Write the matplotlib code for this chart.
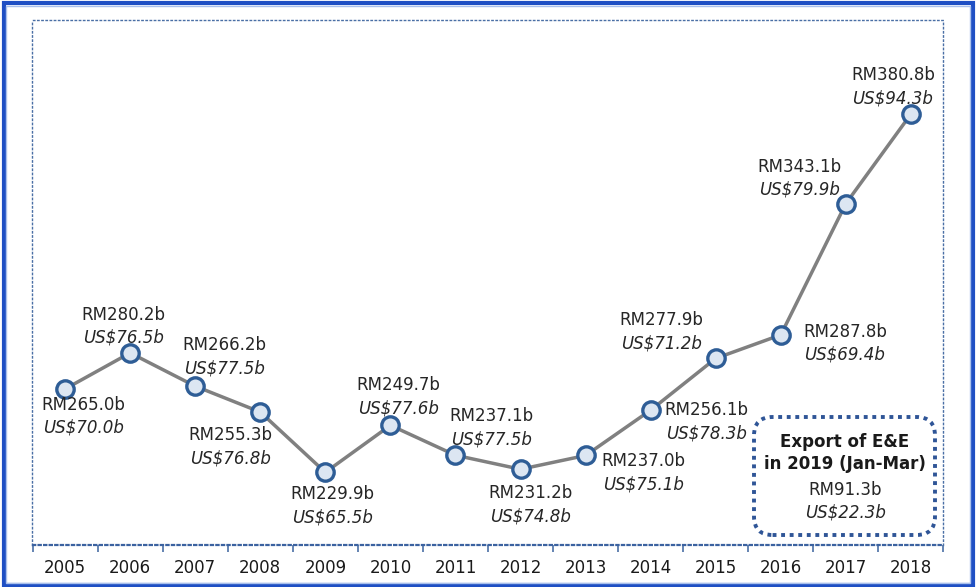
import numpy as np
import matplotlib.pyplot as plt
from matplotlib.patches import Rectangle, FancyBboxPatch

years = ["2005", "2006", "2007", "2008", "2009", "2010", "2011",
         "2012", "2013", "2014", "2015", "2016", "2017", "2018"]
rm_values = [265.0, 280.2, 266.2, 255.3, 229.9, 249.7, 237.1,
             231.2, 237.0, 256.1, 277.9, 287.8, 343.1, 380.8]
usd_values = [70.0, 76.5, 77.5, 76.8, 65.5, 77.6, 77.5,
              74.8, 75.1, 78.3, 71.2, 69.4, 79.9, 94.3]

# label offsets (pixels) of the RM line centre from each point
label_dx = [18, -7, 29, -30, 7, 8, 36, 10, 58, 56, -54, 64, -46, -18]
label_dy = [-16, 38, 41, -23, -22, 40, 39, -24, -6, 0, 38, 3, 37, 39]

inset_title = "Export of E&E\nin 2019 (Jan-Mar)"
inset_rm = "RM91.3b"
inset_usd = "US$22.3b"

plt.rcParams['font.family'] = ['DejaVu Sans']

fig = plt.figure(figsize=(9.78, 5.87), dpi=100)
ax = fig.add_axes([32.5 / 978, 42 / 587, 911 / 978, 525 / 587])

x = np.arange(len(years))
ax.plot(x, rm_values, color='#808080', lw=2.5, zorder=2)
ax.plot(x, rm_values, 'o', ms=12.5, mfc='#dce6f2', mec='#2e5d96', mew=2.4,
        zorder=3)

for i in range(len(years)):
    ax.annotate(f"RM{rm_values[i]:.1f}b", (x[i], rm_values[i]),
                xytext=(label_dx[i], label_dy[i]), textcoords='offset pixels',
                ha='center', va='center', fontsize=12, color='#262626')
    ax.annotate(f"US${usd_values[i]:.1f}b", (x[i], rm_values[i]),
                xytext=(label_dx[i], label_dy[i] - 23), textcoords='offset pixels',
                ha='center', va='center', fontsize=12, color='#262626',
                style='italic')

ax.set_xlim(-0.5, len(years) - 0.5)
ax.set_ylim(199.3, 420.4)
ax.set_yticks([])
ax.set_xticks(x)
ax.set_xticklabels(years, fontsize=12, color='#1a1a1a')
ax.set_xticks(np.arange(-0.5, len(years)), minor=True)
ax.tick_params(axis='x', which='major', length=0, pad=10)
ax.tick_params(axis='x', which='minor', length=5, width=1.2, color='#4a6fa5')

for side in ['top', 'left', 'right']:
    ax.spines[side].set_linestyle((0, (1, 2)))
    ax.spines[side].set_color('#4a6fa5')
    ax.spines[side].set_linewidth(1.0)
ax.spines['bottom'].set_linestyle((0, (1, 1.5)))
ax.spines['bottom'].set_color('#3b62a0')
ax.spines['bottom'].set_linewidth(1.6)

# inset box with 2019 figure
box = FancyBboxPatch((754 / 978, 52 / 587), 181 / 978, 118 / 587,
                     boxstyle="round,pad=0,rounding_size=0.019",
                     mutation_aspect=978 / 587,
                     transform=fig.transFigure, fill=False,
                     edgecolor='#2f5597', lw=2.8, linestyle=(0, (1, 1.2)))
fig.patches.append(box)
fig.text(845 / 978, (587 - 453) / 587, inset_title, ha='center', va='center',
         fontsize=12, fontweight='bold', color='#1a1a1a', linespacing=1.35)
fig.text(845 / 978, (587 - 490) / 587, inset_rm, ha='center', va='center',
         fontsize=12, color='#262626')
fig.text(845 / 978, (587 - 513) / 587, inset_usd, ha='center', va='center',
         fontsize=12, color='#262626', style='italic')

# outer frame
fig.patches.append(Rectangle((4 / 978, 2 / 587), 969 / 978, 582 / 587,
                             transform=fig.transFigure, fill=False,
                             edgecolor='#1f4fc4', lw=3))
fig.patches.append(Rectangle((6.5 / 978, 4.5 / 587), 964 / 978, 577 / 587,
                             transform=fig.transFigure, fill=False,
                             edgecolor='#a9c0ec', lw=1))

fig.savefig("out.png", dpi=100)
